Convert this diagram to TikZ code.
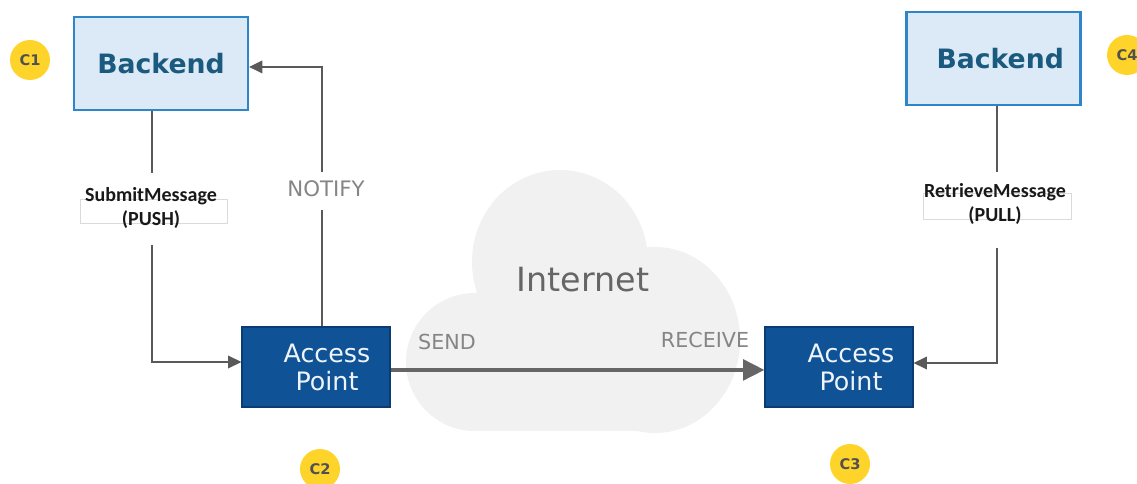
\documentclass[tikz,border=0pt]{standalone}
\usepackage{fontspec}
\setmainfont{DejaVu Sans}
\newfontfamily\calib{Carlito}
\usetikzlibrary{arrows.meta}
\definecolor{bkfill}{HTML}{DCE9F6}
\definecolor{bkdraw}{HTML}{2E86C8}
\definecolor{bktext}{HTML}{1A5A7E}
\definecolor{apfill}{HTML}{0F5296}
\definecolor{apdraw}{HTML}{0B3B73}
\definecolor{aptext}{HTML}{EEF4FA}
\definecolor{lncol}{HTML}{595959}
\definecolor{lblgrey}{HTML}{858585}
\definecolor{cloudc}{HTML}{F1F1F1}
\definecolor{boxgrey}{HTML}{DADADA}
\definecolor{ylw}{HTML}{FFD42A}
\definecolor{ctext}{HTML}{505050}
\tikzset{
  backend/.style={draw=bkdraw, line width=1.6pt, fill=bkfill, minimum width=130.5pt, minimum height=69.75pt, inner sep=0pt, font=\fontsize{20}{24}\selectfont\bfseries, text=bktext},
  apbox/.style={draw=apdraw, line width=0.9pt, fill=apfill, minimum width=111pt, minimum height=60pt, inner sep=0pt, align=center, font=\fontsize{19}{21}\selectfont, text=aptext},
  conn/.style={draw=lncol, line width=1.1pt},
  tip/.style={-{Triangle[length=10pt,width=9.5pt]}},
  glabel/.style={text=lblgrey, inner sep=0pt},
  msglabel/.style={font=\calib\bfseries\fontsize{15}{18}\selectfont, text=black!90, align=center, inner sep=0pt},
  cbadge/.style={circle, fill=ylw, minimum size=30pt, inner sep=0pt, font=\fontsize{11}{13}\selectfont\bfseries, text=ctext}
}
\begin{document}
\begin{tikzpicture}[x=0.75pt,y=-0.75pt]
\useasboundingbox (0,0) rectangle (1137,484);
\fill[white] (0,0) rectangle (1137,484);
% cloud
\fill[cloudc] (560,262) ellipse [x radius=88, y radius=92];
\fill[cloudc] (655,340) ellipse [x radius=85, y radius=93];
\fill[cloudc] (475,362) circle [radius=69];
\fill[cloudc] (475,300) rectangle (655,431);
\node[text=black!60, font=\fontsize{25}{30}\selectfont, inner sep=0pt] (inet) at (583,280) {Internet};
% boxes
\node[backend] (bk1) at (161,63.5) {Backend};
\node[backend] (bk2) at (993.5,58.5) {\hspace*{10pt}Backend};
\node[apbox] (ap1) at (316,367) {\hspace*{16.5pt}Access\\\hspace*{16.5pt}Point};
\node[apbox] (ap2) at (839,367) {\hspace*{18pt}Access\\\hspace*{18pt}Point};
% badges
\node[cbadge] (c1) at (30,60) {C1};
\node[cbadge] (c2) at (320,469) {C2};
\node[cbadge] (c3) at (850,464) {C3};
\node[cbadge] (c4) at (1127,55) {C4};
% message labels
\draw[boxgrey, line width=0.6pt] (80,199) rectangle (227,223);
\node[msglabel] (sub) at (151,208) {SubmitMessage\\(PUSH)};
\draw[boxgrey, line width=0.6pt] (923,193) rectangle (1071,219);
\node[msglabel] (ret) at (995,204) {RetrieveMessage\\(PULL)};
% left connector
\coordinate (s1a) at (152,173);
\coordinate (s1b) at (152,245);
\draw[conn] (s1a |- bk1.south) -- (s1a);
\draw[conn,tip] (s1b) |- ([yshift=3.75pt]ap1.west);
% notify connector
\node[glabel, font=\fontsize{16}{19}\selectfont] (notify) at (326,189) {NOTIFY};
\coordinate (n1a) at (322,210);
\coordinate (n1b) at (322,172);
\draw[conn] (n1a |- ap1.north) -- (n1a);
\draw[conn,tip] (n1b) |- ([yshift=-2.6pt]bk1.east);
% right connector
\coordinate (r1a) at (997,172);
\coordinate (r1b) at (997,248);
\draw[conn] (r1a |- bk2.south) -- (r1a);
\draw[conn,tip] (r1b) |- ([yshift=3pt]ap2.east);
% send / receive
\draw[draw=black!60, line width=2.6pt, -{Triangle[length=16pt,width=15.5pt]}] ([yshift=-2.2pt]ap1.east) -- ([yshift=-2.2pt]ap2.west);
\node[glabel, font=\fontsize{15.5}{18}\selectfont] (send) at (447,342) {SEND};
\node[glabel, font=\fontsize{15.5}{18}\selectfont] (recv) at (705,340) {RECEIVE};
\end{tikzpicture}
\end{document}
